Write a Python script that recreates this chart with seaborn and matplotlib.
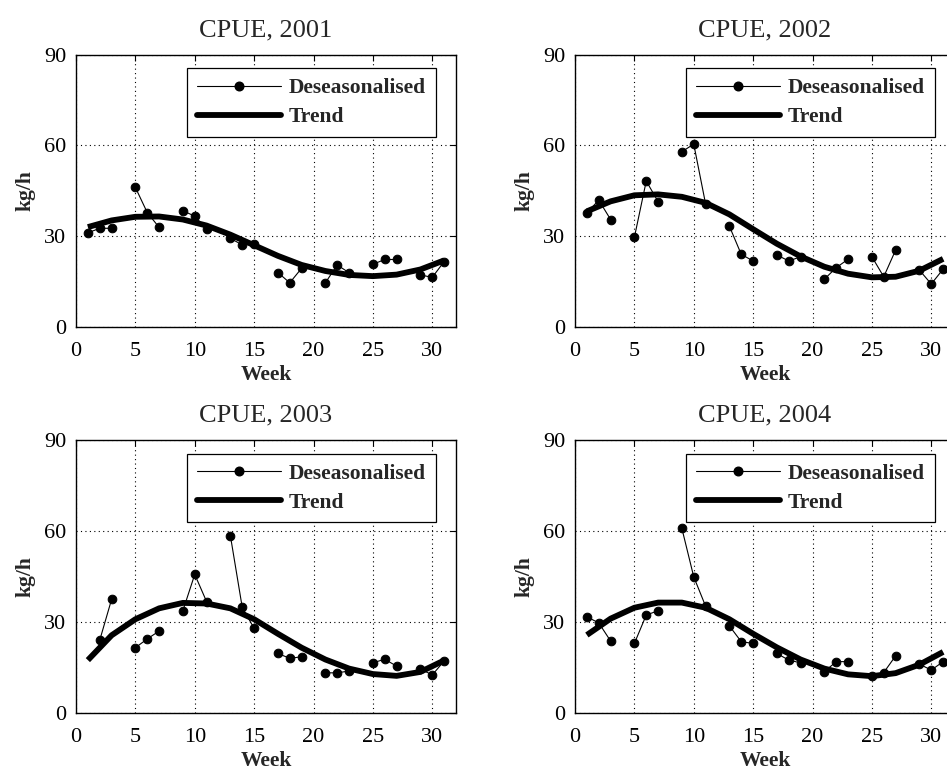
import numpy as np
import pandas as pd
import matplotlib
matplotlib.use("Agg")
import matplotlib.pyplot as plt
from matplotlib.lines import Line2D
import seaborn as sns

# Sampled weeks (every fourth week has no catch record)
weeks = [1, 2, 3, 5, 6, 7, 9, 10, 11, 13, 14, 15, 17, 18, 19,
         21, 22, 23, 25, 26, 27, 29, 30, 31]

# Deseasonalised CPUE (kg/h)
cpue_2001 = [31.1, 32.6, 32.6, 46.1, 37.8, 32.9, 38.4, 36.6, 32.3, 29.3, 27.1, 27.4,
             18.0, 14.6, 19.4, 14.6, 20.5, 17.9, 20.7, 22.3, 22.3, 17.2, 16.4, 21.6]
cpue_2002 = [37.7, 41.9, 35.5, 29.6, 48.2, 41.4, 57.9, 60.4, 40.6, 33.3, 24.0, 21.8,
             23.8, 21.8, 23.2, 15.8, 19.6, 22.4, 23.2, 16.6, 25.4, 18.8, 14.2, 19.1]
cpue_2003 = [np.nan, 23.9, 37.4, 21.4, 24.3, 26.9, 33.6, 45.6, 36.6, 58.4, 34.7, 27.8,
             19.5, 17.9, 18.4, 13.1, 13.1, 13.7, 16.4, 17.6, 15.3, 14.4, 12.4, 17.0]
cpue_2004 = [31.6, 29.6, 23.6, 22.8, 32.2, 33.6, 60.8, 44.8, 35.1, 28.6, 23.4, 22.8,
             19.5, 17.3, 16.4, 13.5, 16.8, 16.8, 12.0, 13.2, 18.7, 16.0, 14.0, 16.8]

# Trend curves, read at odd weeks
trend_weeks = [1, 3, 5, 7, 9, 11, 13, 15, 17, 19, 21, 23, 25, 27, 29, 31]
trend_2001 = [33.0, 35.2, 36.4, 36.5, 35.5, 33.5, 30.5, 27.0,
              23.5, 20.5, 18.5, 17.2, 16.8, 17.3, 19.0, 22.0]
trend_2002 = [38.2, 41.5, 43.5, 43.8, 43.0, 41.0, 37.2, 32.3,
              27.5, 23.3, 19.9, 17.6, 16.4, 16.6, 18.6, 22.5]
trend_2003 = [17.3, 25.5, 30.8, 34.4, 36.2, 36.0, 34.4, 30.8,
              26.0, 21.4, 17.5, 14.5, 12.7, 12.1, 13.4, 17.2]
trend_2004 = [25.6, 31.0, 34.6, 36.3, 36.3, 34.6, 30.8, 26.0,
              21.5, 17.5, 14.5, 12.6, 12.0, 13.0, 15.8, 20.0]

years = ["2001", "2002", "2003", "2004"]
series = [cpue_2001, cpue_2002, cpue_2003, cpue_2004]
trends = [trend_2001, trend_2002, trend_2003, trend_2004]

sns.set_style("white")
plt.rcParams["font.family"] = ["Liberation Serif", "DejaVu Serif"]

fig = plt.figure(figsize=(9.47, 7.71), dpi=100)

W, H = 947.0, 771.0
ax_w = 380 / W
ax_h = 272.5 / H
positions = [
    (76 / W, 1 - 327 / H),
    (575 / W, 1 - 327 / H),
    (76 / W, 1 - 712.5 / H),
    (575 / W, 1 - 712.5 / H),
]

for (left, bottom), year, vals, trend in zip(positions, years, series, trends):
    ax = fig.add_axes([left, bottom, ax_w, ax_h])
    df = pd.DataFrame({"week": weeks, "cpue": vals})
    df["block"] = (df["week"] - 1) // 4
    tdf = pd.DataFrame({"week": trend_weeks, "trend": trend})

    sns.lineplot(data=df, x="week", y="cpue", units="block", estimator=None,
                 color="black", lw=0.8, marker="o", markersize=6.2,
                 markeredgecolor="black", ax=ax, legend=False)
    sns.lineplot(data=tdf, x="week", y="trend", color="black", lw=4.2,
                 ax=ax, legend=False, solid_capstyle="butt")

    ax.set_xlim(0, 32)
    ax.set_ylim(0, 90)
    ax.set_xticks([0, 5, 10, 15, 20, 25, 30])
    ax.set_yticks([0, 30, 60, 90])
    ax.grid(True, color="black", linestyle=(0, (1, 3)), linewidth=0.8)
    ax.tick_params(direction="in", length=4, width=0.8, top=True, right=True,
                   labelsize=16, colors="black")
    ax.tick_params(axis="x", pad=11)
    ax.tick_params(axis="y", pad=7)
    for sp in ax.spines.values():
        sp.set_visible(True)
        sp.set_color("black")
        sp.set_linewidth(1.0)

    ax.set_title(f"CPUE, {year}", fontsize=19, pad=13)
    ax.set_xlabel("Week", fontsize=15.5, fontweight="bold", labelpad=3)
    ax.set_ylabel("kg/h", fontsize=15.5, fontweight="bold", labelpad=6)

    handles = [
        Line2D([], [], color="black", lw=0.8, marker="o", markersize=6.2),
        Line2D([], [], color="black", lw=4.2),
    ]
    leg = ax.legend(handles, ["Deseasonalised", "Trend"], loc="upper right",
                    bbox_to_anchor=(0.947, 0.949), borderaxespad=0,
                    fancybox=False, framealpha=1, edgecolor="black",
                    handlelength=3.9, handletextpad=0.37, labelspacing=0.42,
                    borderpad=0.45,
                    prop={"size": 15.5, "weight": "bold"})
    leg.get_frame().set_linewidth(0.9)

fig.savefig("out.png", dpi=100, facecolor="white")
